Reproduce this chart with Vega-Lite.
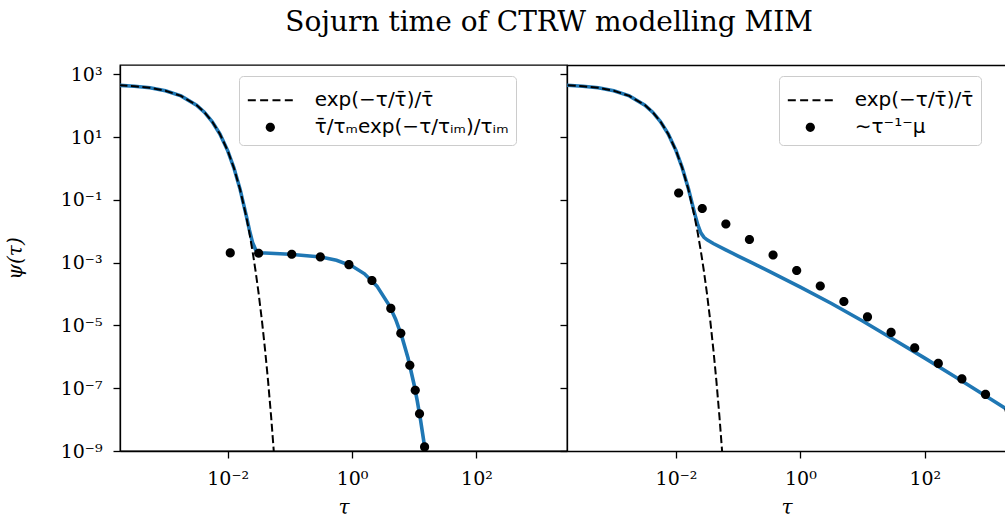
{
  "$schema": "https://vega.github.io/schema/vega-lite/v6.json",
  "background": "white",
  "padding": {"left": 4, "top": 9, "right": 0, "bottom": 0},
  "title": {"text": "Sojurn time of CTRW modelling MIM", "font": "DejaVu Serif", "fontSize": 28, "fontWeight": "normal", "color": "black", "anchor": "middle", "dx": 44, "offset": 27},
  "datasets": {
    "dash": [
      {"t": 1.82e-4, "psi": 446.0}, {"t": 3.162e-4, "psi": 417.8}, {"t": 5.623e-4, "psi": 370.7},
      {"t": 1e-3, "psi": 299.3}, {"t": 1.778e-3, "psi": 204.8}, {"t": 3.162e-3, "psi": 104.3},
      {"t": 4.217e-3, "psi": 62.3}, {"t": 5.623e-3, "psi": 31.39}, {"t": 7.499e-3, "psi": 12.57},
      {"t": 0.01, "psi": 3.711}, {"t": 0.01259, "psi": 1.049}, {"t": 0.01585, "psi": 0.2139},
      {"t": 0.01995, "psi": 0.02894}, {"t": 0.02239, "psi": 8.8e-3}, {"t": 0.02512, "psi": 2.324e-3},
      {"t": 0.02818, "psi": 5.225e-4}, {"t": 0.03162, "psi": 9.757e-5}, {"t": 0.03548, "psi": 1.484e-5},
      {"t": 0.03981, "psi": 1.795e-6}, {"t": 0.04467, "psi": 1.678e-7}, {"t": 0.05012, "psi": 1.175e-8},
      {"t": 0.05623, "psi": 5.97e-10}
    ],
    "blueL": [
      {"t": 1.82e-4, "psi": 446.0}, {"t": 3.162e-4, "psi": 417.8}, {"t": 5.623e-4, "psi": 370.7},
      {"t": 1e-3, "psi": 299.3}, {"t": 1.778e-3, "psi": 204.8}, {"t": 3.162e-3, "psi": 104.3},
      {"t": 4.217e-3, "psi": 62.3}, {"t": 5.623e-3, "psi": 31.39}, {"t": 7.499e-3, "psi": 12.57},
      {"t": 0.01, "psi": 3.713}, {"t": 0.01259, "psi": 1.051}, {"t": 0.01585, "psi": 0.2159},
      {"t": 0.01995, "psi": 0.03098}, {"t": 0.02239, "psi": 0.01084}, {"t": 0.02512, "psi": 4.364e-3},
      {"t": 0.02818, "psi": 2.563e-3}, {"t": 0.03162, "psi": 2.138e-3}, {"t": 0.03548, "psi": 2.051e-3},
      {"t": 0.03981, "psi": 2.035e-3}, {"t": 0.1, "psi": 1.862e-3}, {"t": 0.3162, "psi": 1.509e-3},
      {"t": 0.5623, "psi": 1.188e-3}, {"t": 1.0, "psi": 7.77e-4}, {"t": 1.585, "psi": 4.40e-4},
      {"t": 2.512, "psi": 1.789e-4}, {"t": 3.981, "psi": 4.30e-5}, {"t": 5.012, "psi": 1.579e-5},
      {"t": 6.31, "psi": 4.48e-6}, {"t": 7.943, "psi": 9.17e-7}, {"t": 10.0, "psi": 1.244e-7},
      {"t": 11.22, "psi": 3.81e-8}, {"t": 12.59, "psi": 1.006e-8}, {"t": 14.13, "psi": 2.258e-9},
      {"t": 15.85, "psi": 4.25e-10}
    ],
    "blueR": [
      {"t": 1.77e-4, "psi": 446.5}, {"t": 3.162e-4, "psi": 417.8}, {"t": 5.623e-4, "psi": 370.7},
      {"t": 1e-3, "psi": 299.3}, {"t": 1.778e-3, "psi": 204.8}, {"t": 3.162e-3, "psi": 104.3},
      {"t": 4.217e-3, "psi": 62.3}, {"t": 5.623e-3, "psi": 31.4}, {"t": 7.499e-3, "psi": 12.59},
      {"t": 0.01, "psi": 3.728}, {"t": 0.01259, "psi": 1.062}, {"t": 0.01585, "psi": 0.2244},
      {"t": 0.01995, "psi": 0.03726}, {"t": 0.02239, "psi": 0.01621}, {"t": 0.02512, "psi": 8.934e-3},
      {"t": 0.02818, "psi": 6.413e-3}, {"t": 0.03162, "psi": 5.346e-3}, {"t": 0.03981, "psi": 4.076e-3},
      {"t": 0.0631, "psi": 2.57e-3}, {"t": 0.1, "psi": 1.622e-3}, {"t": 0.1585, "psi": 1.035e-3},
      {"t": 0.3162, "psi": 5.248e-4}, {"t": 1.0, "psi": 1.66e-4}, {"t": 3.162, "psi": 5.012e-5},
      {"t": 10.0, "psi": 1.38e-5}, {"t": 31.62, "psi": 3.548e-6}, {"t": 100.0, "psi": 9.12e-7},
      {"t": 316.2, "psi": 2.239e-7}, {"t": 1000.0, "psi": 5.37e-8}, {"t": 2818.0, "psi": 1.479e-8}
    ],
    "dotsL": [
      {"t": 0.01101, "psi": 2.04e-3}, {"t": 0.03148, "psi": 1.99e-3}, {"t": 0.1072, "psi": 1.85e-3},
      {"t": 0.309, "psi": 1.52e-3}, {"t": 0.891, "psi": 8.63e-4}, {"t": 2.089, "psi": 2.70e-4},
      {"t": 4.2, "psi": 3.48e-5}, {"t": 6.08, "psi": 5.6e-6}, {"t": 8.49, "psi": 5.4e-7},
      {"t": 10.38, "psi": 8.61e-8}, {"t": 12.16, "psi": 1.531e-8}, {"t": 14.66, "psi": 1.352e-9}
    ],
    "dotsR": [
      {"t": 0.01104, "psi": 0.1652}, {"t": 0.02645, "psi": 0.05302}, {"t": 0.06339, "psi": 0.01702},
      {"t": 0.1518, "psi": 5.464e-3}, {"t": 0.3639, "psi": 1.754e-3}, {"t": 0.872, "psi": 5.63e-4},
      {"t": 2.089, "psi": 1.807e-4}, {"t": 5.006, "psi": 5.8e-5}, {"t": 11.995, "psi": 1.862e-5},
      {"t": 28.74, "psi": 5.977e-6}, {"t": 68.87, "psi": 1.919e-6}, {"t": 165.0, "psi": 6.16e-7},
      {"t": 395.4, "psi": 1.977e-7}, {"t": 947.5, "psi": 6.346e-8}, {"t": 2270.0, "psi": 2.037e-8}
    ]
  },
  "spacing": 0,
  "bounds": "flush",
  "hconcat": [
    {
      "width": 447,
      "height": 386,
      "layer": [
        {
          "data": {"name": "blueL"},
          "mark": {"type": "line", "color": "#1f77b4", "strokeWidth": 3.6, "clip": true},
          "encoding": {
            "x": {"field": "t", "type": "quantitative", "scale": {"type": "log", "domain": [1.858e-4, 2858], "nice": false},
                  "axis": {"values": [0.01, 1, 100], "labelExpr": "datum.value < 0.1 ? '10⁻²' : datum.value < 10 ? '10⁰' : '10²'", "title": "τ"}},
            "y": {"field": "psi", "type": "quantitative", "scale": {"type": "log", "domain": [1e-9, 1977], "nice": false},
                  "axis": {"values": [1e-9, 1e-7, 1e-5, 1e-3, 0.1, 10, 1000], "labelExpr": "datum.value < 1e-8 ? '10⁻⁹' : datum.value < 1e-6 ? '10⁻⁷' : datum.value < 1e-4 ? '10⁻⁵' : datum.value < 1e-2 ? '10⁻³' : datum.value < 1 ? '10⁻¹' : datum.value < 100 ? '10¹' : '10³'",
                           "title": "ψ(τ)", "titleX": -95, "titleY": 193, "titleAngle": -90, "titleAlign": "center", "titleBaseline": "bottom"}}
          }
        },
        {
          "data": {"name": "dash"},
          "mark": {"type": "line", "color": "black", "strokeWidth": 2, "strokeDash": [8, 3.5], "clip": true},
          "encoding": {
            "x": {"field": "t", "type": "quantitative"},
            "y": {"field": "psi", "type": "quantitative"}
          }
        },
        {
          "data": {"name": "dotsL"},
          "transform": [{"calculate": "'τ̄/τₘexp(−τ/τᵢₘ)/τᵢₘ'", "as": "sL"}],
          "mark": {"type": "point", "filled": true, "color": "black", "strokeWidth": 0, "size": 1156, "opacity": 1, "clip": true},
          "encoding": {
            "x": {"field": "t", "type": "quantitative"},
            "y": {"field": "psi", "type": "quantitative"},
            "shape": {"field": "sL", "type": "nominal",
              "scale": {"domain": ["exp(−τ/τ̄)/τ̄", "τ̄/τₘexp(−τ/τᵢₘ)/τᵢₘ"],
                        "range": ["M-1.323,-0.06H-0.853V0.06H-1.323ZM-0.598,-0.06H-0.128V0.06H-0.598ZM0.128,-0.06H0.598V0.06H0.128ZM0.853,-0.06H1.323V0.06H0.853Z", "M-0.27,0A0.27,0.27,0,1,1,0.27,0A0.27,0.27,0,1,1,-0.27,0Z"]},
              "legend": {"orient": "none", "legendX": 119, "legendY": 11, "title": null, "symbolSize": 1156, "symbolOffset": 7, "labelOffset": 27.5, "padding": 7.3, "rowPadding": 0,
                         "fillColor": "rgba(255,255,255,0.8)", "strokeColor": "#cccccc", "cornerRadius": 4,
                         "symbolFillColor": "black", "symbolStrokeWidth": 0,
                         "labelFont": "DejaVu Sans", "labelFontSize": 20, "labelColor": "black", "labelLimit": 400,
                         "encode": {"symbols": {"update": {"fill": {"value": "black"}, "strokeWidth": {"value": 0}, "opacity": {"value": 1}}}}}}
          }
        }
      ]
    },
    {
      "width": 439,
      "height": 386,
      "view": {"stroke": null},
      "resolve": {"axis": {"x": "independent"}},
      "layer": [
        {
          "data": {"name": "blueR"},
          "mark": {"type": "line", "color": "#1f77b4", "strokeWidth": 3.6, "clip": true},
          "encoding": {
            "x": {"field": "t", "type": "quantitative", "scale": {"type": "log", "domain": [1.77e-4, 2023], "nice": false},
                  "axis": {"values": [0.01, 1, 100], "labelExpr": "datum.value < 0.1 ? '10⁻²' : datum.value < 10 ? '10⁰' : '10²'", "title": "τ"}},
            "y": {"field": "psi", "type": "quantitative", "scale": {"type": "log", "domain": [1e-9, 1977], "nice": false},
                  "axis": {"values": [1e-9, 1e-7, 1e-5, 1e-3, 0.1, 10, 1000], "labels": false, "title": null}}
          }
        },
        {
          "data": {"name": "dash"},
          "mark": {"type": "line", "color": "black", "strokeWidth": 2, "strokeDash": [8, 3.5], "clip": true},
          "encoding": {
            "x": {"field": "t", "type": "quantitative", "axis": {"orient": "top", "labels": false, "ticks": false, "title": null, "domain": true}},
            "y": {"field": "psi", "type": "quantitative"}
          }
        },
        {
          "data": {"name": "dotsR"},
          "transform": [{"calculate": "'∼τ⁻¹⁻μ'", "as": "sR"}],
          "mark": {"type": "point", "filled": true, "color": "black", "strokeWidth": 0, "size": 1156, "opacity": 1, "clip": true},
          "encoding": {
            "x": {"field": "t", "type": "quantitative", "axis": null},
            "y": {"field": "psi", "type": "quantitative"},
            "shape": {"field": "sR", "type": "nominal",
              "scale": {"domain": ["exp(−τ/τ̄)/τ̄", "∼τ⁻¹⁻μ"],
                        "range": ["M-1.323,-0.06H-0.853V0.06H-1.323ZM-0.598,-0.06H-0.128V0.06H-0.598ZM0.128,-0.06H0.598V0.06H0.128ZM0.853,-0.06H1.323V0.06H0.853Z", "M-0.27,0A0.27,0.27,0,1,1,0.27,0A0.27,0.27,0,1,1,-0.27,0Z"]},
              "legend": {"orient": "none", "legendX": 212, "legendY": 11, "title": null, "symbolSize": 1156, "symbolOffset": 7, "labelOffset": 27.5, "padding": 7.3, "rowPadding": 0,
                         "fillColor": "rgba(255,255,255,0.8)", "strokeColor": "#cccccc", "cornerRadius": 4,
                         "symbolFillColor": "black", "symbolStrokeWidth": 0,
                         "labelFont": "DejaVu Sans", "labelFontSize": 20, "labelColor": "black", "labelLimit": 400,
                         "encode": {"symbols": {"update": {"fill": {"value": "black"}, "strokeWidth": {"value": 0}, "opacity": {"value": 1}}}}}}
          }
        }
      ]
    }
  ],
  "resolve": {"scale": {"x": "independent", "y": "independent", "shape": "independent"}, "legend": {"shape": "independent"}},
  "config": {
    "view": {"stroke": "black", "strokeWidth": 1.3},
    "axis": {"domainColor": "black", "domainWidth": 1.3, "tickColor": "black", "tickWidth": 1.3, "tickSize": 7, "grid": false,
             "labelFont": "DejaVu Serif", "labelFontSize": 19, "labelColor": "black", "labelPadding": 11,
             "titleFont": "DejaVu Serif", "titleFontStyle": "italic", "titleFontWeight": "normal", "titleFontSize": 20, "titleColor": "black", "titlePadding": 9}
  }
}
